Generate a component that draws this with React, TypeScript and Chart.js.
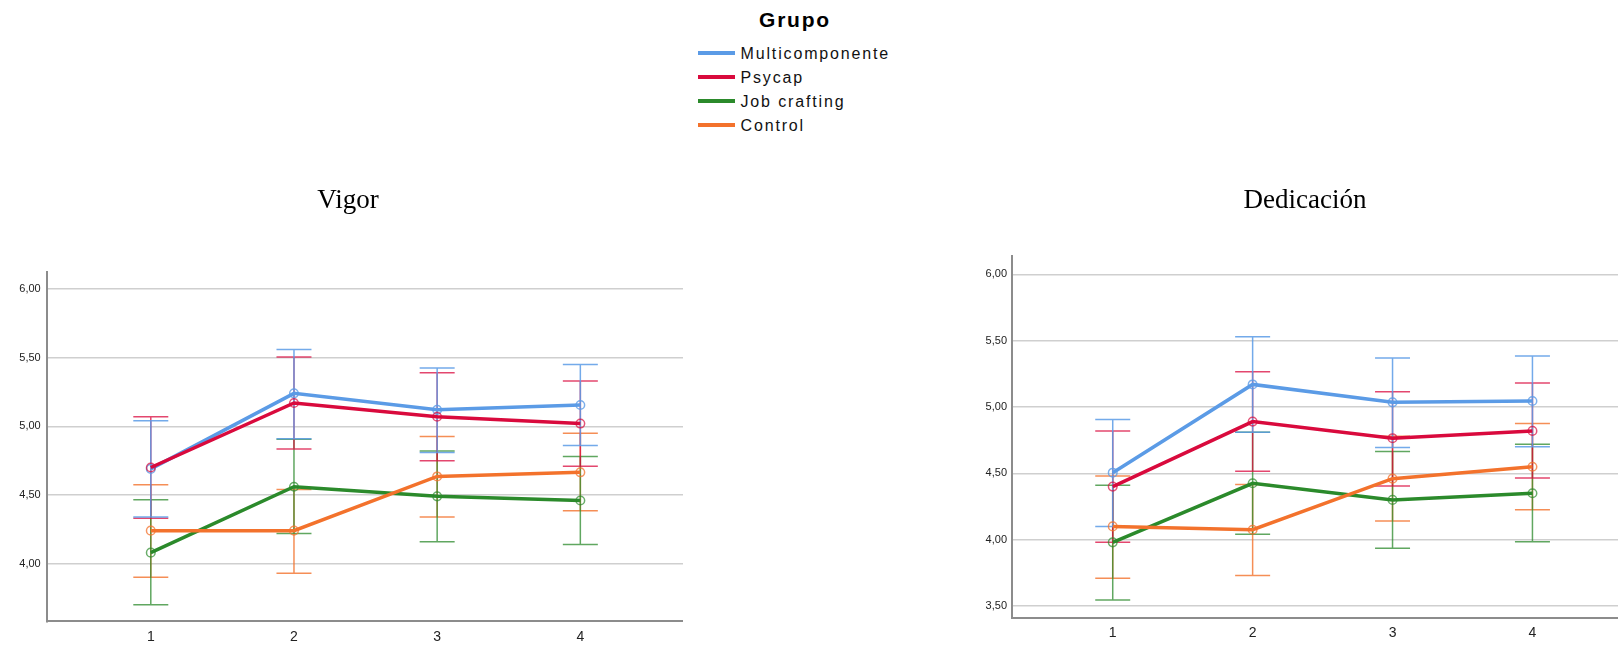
import React, { useEffect, useRef } from 'react';
import { Chart, registerables } from 'chart.js';

Chart.register(...registerables);

// ---------- data ----------
const timePoints = [1, 2, 3, 4];
const timeLabels = ['1', '2', '3', '4'];
const groupNames = ['Multicomponente', 'Psycap', 'Job crafting', 'Control'];
const legendTitle = 'Grupo';
const vigorTitle = 'Vigor';
const dedTitle = 'Dedicación';

// Vigor
const vigorMulti = [4.69, 5.24, 5.12, 5.155];
const vigorMultiLow = [4.34, 4.91, 4.81, 4.86];
const vigorMultiHigh = [5.04, 5.56, 5.425, 5.45];
const vigorPsycap = [4.7, 5.17, 5.07, 5.02];
const vigorPsycapLow = [4.33, 4.835, 4.75, 4.71];
const vigorPsycapHigh = [5.07, 5.505, 5.39, 5.33];
const vigorJob = [4.08, 4.56, 4.49, 4.46];
const vigorJobLow = [3.7, 4.22, 4.16, 4.14];
const vigorJobHigh = [4.465, 4.905, 4.82, 4.78];
const vigorControl = [4.24, 4.24, 4.635, 4.665];
const vigorControlLow = [3.9, 3.93, 4.34, 4.385];
const vigorControlHigh = [4.575, 4.54, 4.925, 4.95];

// Dedicación
const dedMulti = [4.505, 5.17, 5.035, 5.045];
const dedMultiLow = [4.1, 4.81, 4.695, 4.7];
const dedMultiHigh = [4.905, 5.53, 5.37, 5.385];
const dedPsycap = [4.4, 4.89, 4.765, 4.82];
const dedPsycapLow = [3.98, 4.515, 4.405, 4.465];
const dedPsycapHigh = [4.82, 5.265, 5.115, 5.18];
const dedJob = [3.98, 4.425, 4.3, 4.35];
const dedJobLow = [3.545, 4.04, 3.935, 3.985];
const dedJobHigh = [4.41, 4.81, 4.665, 4.72];
const dedControl = [4.1, 4.075, 4.46, 4.55];
const dedControlLow = [3.71, 3.73, 4.14, 4.225];
const dedControlHigh = [4.48, 4.415, 4.78, 4.875];

// ---------- styles ----------
const groupColors = ['#5b9be6', '#d90a3d', '#2b8a2b', '#f3722c'];
const errColors = [
  'rgba(91,155,230,0.85)',
  'rgba(217,10,61,0.75)',
  'rgba(43,138,43,0.75)',
  'rgba(243,114,44,0.8)',
];
const pointColors = [
  'rgba(91,155,230,0.8)',
  'rgba(217,10,61,0.7)',
  'rgba(43,138,43,0.7)',
  'rgba(243,114,44,0.75)',
];
const SANS = '"Liberation Sans", Arial, Helvetica, sans-serif';
const SERIF = '"Liberation Serif", "Times New Roman", serif';

const errorBarPlugin = {
  id: 'errorBars',
  beforeDatasetsDraw(chart: any) {
    const ctx = chart.ctx;
    const xs = chart.scales.x;
    const ys = chart.scales.y;
    const cap = 17.5;
    const dsets = chart.data.datasets;
    for (let d = dsets.length - 1; d >= 0; d--) {
      const ds = dsets[d];
      ctx.save();
      ctx.strokeStyle = ds.errColor;
      ctx.lineWidth = 1.5;
      ds.data.forEach((pt: any, i: number) => {
        const x = xs.getPixelForValue(pt.x);
        const y1 = ys.getPixelForValue(ds.errLow[i]);
        const y2 = ys.getPixelForValue(ds.errHigh[i]);
        ctx.beginPath();
        ctx.moveTo(x, y1);
        ctx.lineTo(x, y2);
        ctx.moveTo(x - cap, y1);
        ctx.lineTo(x + cap, y1);
        ctx.moveTo(x - cap, y2);
        ctx.lineTo(x + cap, y2);
        ctx.stroke();
      });
      ctx.restore();
    }
  },
};

type Geo = {
  left: number;
  top: number;
  width: number;
  height: number;
  padL: number;
  yAxisW: number;
  xAxisH: number;
  titleTop: number;
  titleBottom: number;
  xMin: number;
  xMax: number;
  yMin: number;
  yMax: number;
  yTickPad: number;
};

function ProfileChart(props: {
  title: string;
  means: number[][];
  lows: number[][];
  highs: number[][];
  geo: Geo;
}) {
  const ref = useRef<HTMLCanvasElement>(null);
  const { title, means, lows, highs, geo } = props;
  useEffect(() => {
    const canvas = ref.current!;
    const datasets = groupNames.map((name, g) => ({
      label: name,
      data: timePoints.map((t, i) => ({ x: t, y: means[g][i] })),
      errLow: lows[g],
      errHigh: highs[g],
      errColor: errColors[g],
      borderColor: groupColors[g],
      backgroundColor: groupColors[g],
      borderWidth: 3.5,
      pointRadius: 4.3,
      pointBorderWidth: 1.5,
      pointBorderColor: pointColors[g],
      pointBackgroundColor: 'rgba(255,255,255,0)',
      tension: 0,
      fill: false,
      order: 3 - g,
    }));
    const chart = new Chart(canvas, {
      type: 'line',
      data: { datasets } as any,
      plugins: [errorBarPlugin],
      options: {
        responsive: false,
        animation: false,
        devicePixelRatio: 1,
        layout: {
          autoPadding: false,
          padding: { left: geo.padL, right: 0, top: 0, bottom: 0 },
        },
        plugins: {
          legend: { display: false },
          tooltip: { enabled: false },
          title: {
            display: true,
            text: title,
            color: '#000',
            font: { family: SERIF, size: 27, weight: 'normal', lineHeight: 1.2 },
            padding: { top: geo.titleTop, bottom: geo.titleBottom },
          },
        },
        scales: {
          x: {
            type: 'linear',
            min: geo.xMin,
            max: geo.xMax,
            afterFit: (s: any) => {
              s.height = geo.xAxisH;
            },
            grid: { display: false, drawTicks: false },
            border: { display: true, color: '#8c8c8c', width: 2 },
            ticks: {
              stepSize: 1,
              includeBounds: false,
              padding: 7,
              color: '#222',
              font: { family: SANS, size: 14 },
              callback: (v: any) => {
                const idx = timePoints.indexOf(Number(v));
                return idx >= 0 ? timeLabels[idx] : '';
              },
            },
          },
          y: {
            type: 'linear',
            min: geo.yMin,
            max: geo.yMax,
            afterFit: (s: any) => {
              s.width = geo.yAxisW;
            },
            grid: { color: '#cfcfcf', lineWidth: 1.5, drawTicks: false },
            border: { display: true, color: '#8c8c8c', width: 2 },
            ticks: {
              stepSize: 0.5,
              includeBounds: false,
              padding: geo.yTickPad,
              color: '#222',
              font: { family: SANS, size: 11 },
              callback: (v: any) => Number(v).toFixed(2).replace('.', ','),
            },
          },
        },
      } as any,
    });
    return () => chart.destroy();
  }, []);
  return (
    <canvas
      ref={ref}
      width={geo.width}
      height={geo.height}
      style={{
        position: 'absolute',
        left: geo.left,
        top: geo.top,
        width: geo.width,
        height: geo.height,
      }}
    />
  );
}

const vigorGeo: Geo = {
  left: 0,
  top: 170,
  width: 683,
  height: 475,
  padL: 13,
  yAxisW: 33.7,
  xAxisH: 23.7,
  titleTop: 14.8,
  titleBottom: 54.5,
  xMin: 0.273,
  xMax: 4.717,
  yMin: 3.58,
  yMax: 6.126,
  yTickPad: 6,
};

const dedGeo: Geo = {
  left: 960,
  top: 170,
  width: 668,
  height: 475,
  padL: 22,
  yAxisW: 30,
  xAxisH: 27.3,
  titleTop: 14.8,
  titleBottom: 38.8,
  xMin: 0.28,
  xMax: 4.683,
  yMin: 3.412,
  yMax: 6.138,
  yTickPad: 5,
};

function Legend() {
  const lineCenters = [52.5, 76.5, 100.5, 124.5];
  return (
    <div style={{ position: 'absolute', left: 0, top: 0 }}>
      <div
        style={{
          position: 'absolute',
          left: 759,
          top: 8.9,
          font: `bold 21px ${SANS}`,
          lineHeight: '21px',
          letterSpacing: '1.8px',
          whiteSpace: 'nowrap',
          color: '#000',
        }}
      >
        {legendTitle}
      </div>
      {groupNames.map((name, g) => (
        <React.Fragment key={name}>
          <div
            style={{
              position: 'absolute',
              left: 698,
              top: lineCenters[g] - 2,
              width: 37,
              height: 4,
              background: groupColors[g],
            }}
          />
          <div
            style={{
              position: 'absolute',
              left: 740.5,
              top: lineCenters[g] + 7 - 13.4,
              font: `16px ${SANS}`,
              lineHeight: '16px',
              letterSpacing: '1.85px',
              whiteSpace: 'nowrap',
              color: '#111',
            }}
          >
            {name}
          </div>
        </React.Fragment>
      ))}
    </div>
  );
}

export default function App() {
  return (
    <div
      style={{
        position: 'absolute',
        left: 0,
        top: 0,
        width: 1618,
        height: 645,
        overflow: 'hidden',
        background: '#fff',
      }}
    >
      <Legend />
      <ProfileChart
        title={vigorTitle}
        means={[vigorMulti, vigorPsycap, vigorJob, vigorControl]}
        lows={[vigorMultiLow, vigorPsycapLow, vigorJobLow, vigorControlLow]}
        highs={[vigorMultiHigh, vigorPsycapHigh, vigorJobHigh, vigorControlHigh]}
        geo={vigorGeo}
      />
      <ProfileChart
        title={dedTitle}
        means={[dedMulti, dedPsycap, dedJob, dedControl]}
        lows={[dedMultiLow, dedPsycapLow, dedJobLow, dedControlLow]}
        highs={[dedMultiHigh, dedPsycapHigh, dedJobHigh, dedControlHigh]}
        geo={dedGeo}
      />
    </div>
  );
}
